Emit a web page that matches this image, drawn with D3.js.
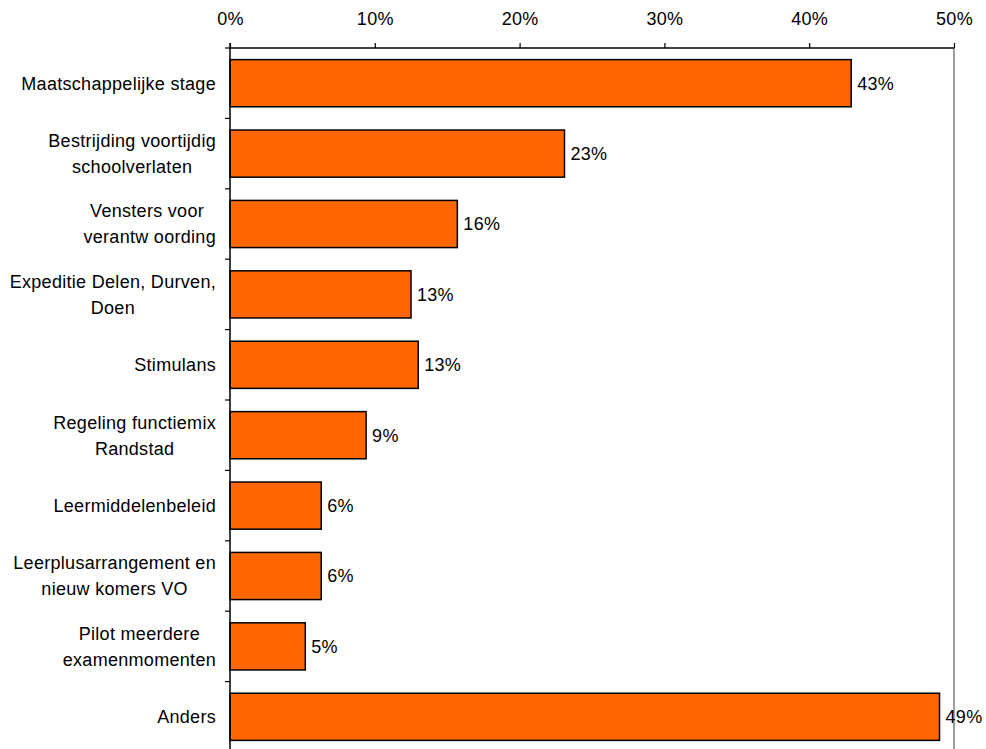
<!DOCTYPE html>
<html>
<head>
<meta charset="utf-8">
<script src="https://cdn.jsdelivr.net/npm/d3@7/dist/d3.min.js"></script>
<style>
  body { margin: 0; background: #fff; }
  svg text { font-family: "Liberation Sans", Arial, sans-serif; font-size: 18px; letter-spacing: 0.3px; fill: #000; }
</style>
</head>
<body>
<div id="chart"></div>
<script>
// categorieën (regels per label)
var categories = [
  ["Maatschappelijke stage"],
  ["Bestrijding voortijdig", "schoolverlaten"],
  ["Vensters voor ", "verantw oording"],
  ["Expeditie Delen, Durven,", "Doen"],
  ["Stimulans"],
  ["Regeling functiemix", "Randstad"],
  ["Leermiddelenbeleid"],
  ["Leerplusarrangement en", "nieuw komers VO"],
  ["Pilot meerdere", "examenmomenten"],
  ["Anders"]
];

// percentages
var values = [42.9, 23.1, 15.7, 12.5, 13.0, 9.4, 6.3, 6.3, 5.2, 49.0];

// as-labels
var tickValues = [0, 10, 20, 30, 40, 50];

var width = 986, height = 749;
var mLeft = 230, mRight = 954, mTop = 48, mBottom = 752;

var svg = d3.select("#chart").append("svg")
  .attr("width", width)
  .attr("height", height);

var x = d3.scaleLinear().domain([0, 50]).range([mLeft, mRight]);
var y = d3.scaleBand().domain(d3.range(categories.length)).range([mTop, mBottom]).paddingInner(0.33).paddingOuter(0.165);

// rechterlijn grijs
svg.append("line")
  .attr("x1", mRight).attr("x2", mRight)
  .attr("y1", mTop).attr("y2", height)
  .attr("stroke", "#808080").attr("stroke-width", 1.5);

// balken
var group1 = svg.selectAll(".bar")
  .data(values)
  .enter()
  .append("g");

group1.append("rect")
  .attr("x", x(0))
  .attr("y", function(d, i) { return y(i); })
  .attr("width", function(d) { return x(d) - x(0); })
  .attr("height", y.bandwidth())
  .attr("fill", "#FF6600")
  .attr("stroke", "#000")
  .attr("stroke-width", 1.5);

group1.append("text")
  .attr("x", function(d) { return x(d) + 6; })
  .attr("y", function(d, i) { return y(i) + y.bandwidth() / 2; })
  .attr("dy", "0.35em")
  .text(function(d) { return Math.round(d) + "%"; });

// x-as boven
var xAxis = d3.axisTop(x)
  .tickValues(tickValues)
  .tickSize(5)
  .tickFormat(function(d) { return d + "%"; });

var gx = svg.append("g")
  .attr("transform", "translate(0," + mTop + ")")
  .call(xAxis);
gx.select(".domain").attr("d", "M" + mLeft + ",0H" + mRight).attr("stroke", "#000").attr("stroke-width", 1.5);
gx.selectAll(".tick line").attr("stroke", "#000").attr("stroke-width", 1.2);
gx.selectAll(".tick text")
  .attr("y", -23)
  .style("font-family", "'Liberation Sans', Arial, sans-serif")
  .style("font-size", "18px");

// y-as links
svg.append("line")
  .attr("x1", mLeft).attr("x2", mLeft)
  .attr("y1", mTop - 5).attr("y2", height)
  .attr("stroke", "#000").attr("stroke-width", 1.5);

var step = y.step();
svg.selectAll(".ytick")
  .data(d3.range(categories.length))
  .enter()
  .append("line")
  .attr("x1", mLeft - 5).attr("x2", mLeft)
  .attr("y1", function(i) { return mTop + i * step; })
  .attr("y2", function(i) { return mTop + i * step; })
  .attr("stroke", "#000").attr("stroke-width", 1.2);

// categorie-labels
var lineH = 26;
categories.forEach(function(lines, i) {
  var cy = y(i) + y.bandwidth() / 2;
  var t = svg.append("text").attr("text-anchor", "middle");
  var spans = lines.map(function(s, k) {
    return t.append("tspan")
      .attr("y", cy + (k - (lines.length - 1) / 2) * lineH)
      .attr("dy", "0.35em")
      .text(s);
  });
  var maxW = d3.max(spans, function(s) { return s.node().getComputedTextLength(); });
  spans.forEach(function(s) { s.attr("x", 216 - maxW / 2); });
});
</script>
</body>
</html>
